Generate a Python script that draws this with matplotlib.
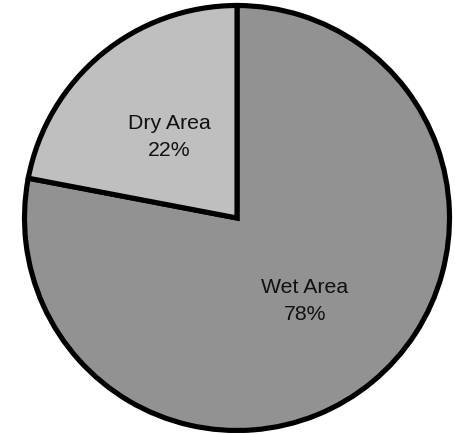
import matplotlib.pyplot as plt

names = ['Wet Area', 'Dry Area']
shares = [78, 22]
colors = ['#929292', '#bfbfbf']

fig = plt.figure(figsize=(4.56, 4.35), dpi=100)
ax = fig.add_axes([0, 0, 1, 1])

labels = [f"{n}\n{v}%" for n, v in zip(names, shares)]
wedges, texts = ax.pie(
    shares,
    labels=labels,
    colors=colors,
    startangle=90,
    counterclock=False,
    radius=212.5,
    center=(237, 216),
    labeldistance=0.5,
    wedgeprops=dict(edgecolor='black', linewidth=3.7, joinstyle='miter'),
    textprops=dict(family='Liberation Sans', fontsize=15.3, color='#111111'),
    frame=True,
)
for t in texts:
    t.set_ha('center')
    t.set_va('center')
    t.set_linespacing(1.5)

ax.set_xlim(0, 456)
ax.set_ylim(0, 435)
ax.set_aspect('equal')
ax.axis('off')

fig.savefig('out.png', dpi=100)
